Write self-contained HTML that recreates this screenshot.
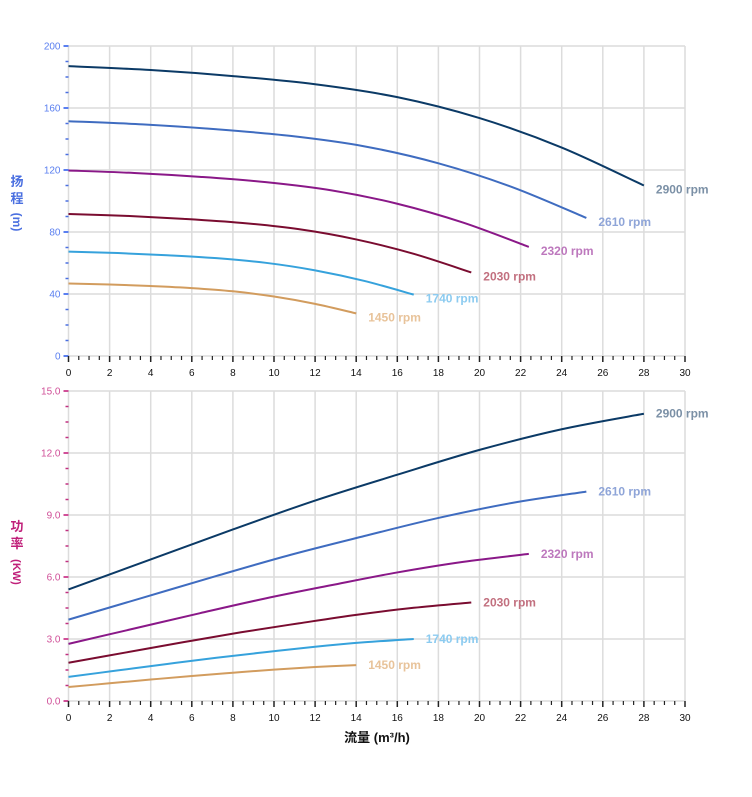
<!DOCTYPE html>
<html><head><meta charset="utf-8">
<style>
html,body{margin:0;padding:0;background:#fff;}
svg{display:block;font-family:"Liberation Sans","Noto Sans CJK SC",sans-serif;}
</style></head>
<body>
<svg id="c" width="752" height="797" xmlns="http://www.w3.org/2000/svg"></svg>
<script>
const S=document.getElementById('c');let h='';
const X0=68.5,XS=(685-68.5)/30;
const x=q=>X0+q*XS;
const T={top:46,bot:356,max:200},B={top:391,bot:701,max:15};
const yT=v=>T.bot-v*(T.bot-T.top)/T.max, yB=v=>B.bot-v*(B.bot-B.top)/B.max;
function panel(P,yf,majStep,minStep,fmt,colMaj,colMin){
  // grid
  for(let q=2;q<=30;q+=2)h+=`<line x1="${x(q)}" y1="${P.top}" x2="${x(q)}" y2="${P.bot}" stroke="#dcdcdc" stroke-width="1.5"/>`;
  for(let v=majStep;v<=P.max+1e-9;v+=majStep)h+=`<line x1="${X0}" y1="${yf(v)}" x2="685" y2="${yf(v)}" stroke="#dcdcdc" stroke-width="1.5"/>`;
  h+=`<line x1="${X0}" y1="${P.top}" x2="${X0}" y2="${P.bot}" stroke="#dcdcdc" stroke-width="1.5"/>`;
  h+=`<line x1="${X0}" y1="${P.bot}" x2="685" y2="${P.bot}" stroke="#dcdcdc" stroke-width="1.5"/>`;
  // y ticks
  for(let v=0;v<=P.max+1e-9;v+=minStep){
    const maj=Math.abs(v/majStep-Math.round(v/majStep))<1e-6;
    const y=yf(v);
    if(maj){h+=`<line x1="${X0-5}" y1="${y}" x2="${X0}" y2="${y}" stroke="${colMaj}" stroke-width="2"/>`;
      h+=`<text x="${X0-8}" y="${y+3.5}" font-size="10" fill="${colMaj}" text-anchor="end">${fmt(v)}</text>`;}
    else h+=`<line x1="${X0-3}" y1="${y}" x2="${X0}" y2="${y}" stroke="${colMin}" stroke-width="1.5"/>`;
  }
  // x ticks
  for(let q=0;q<=30;q+=0.5){const maj=q%2==0;
    h+=`<line x1="${x(q)}" y1="${P.bot}" x2="${x(q)}" y2="${P.bot+(maj?6:4)}" stroke="#222" stroke-width="${maj?1.5:1.2}"/>`;
    if(maj)h+=`<text x="${x(q)}" y="${P.bot+20}" font-size="10" fill="#111" text-anchor="middle">${q}</text>`;}
}
panel(T,yT,40,10,v=>v,'#5a7ff0','#4a6fe0');
panel(B,yB,3,0.75,v=>v.toFixed(1),'#d04f98','#c03080');
function path(pts){let d=`M${pts[0][0]},${pts[0][1]}`;
  for(let i=0;i<pts.length-1;i++){const p0=pts[i-1]||pts[i],p1=pts[i],p2=pts[i+1],p3=pts[i+2]||p2;
    d+=` C${p1[0]+(p2[0]-p0[0])/6},${p1[1]+(p2[1]-p0[1])/6} ${p2[0]-(p3[0]-p1[0])/6},${p2[1]-(p3[1]-p1[1])/6} ${p2[0]},${p2[1]}`;}
  return d;}
const H=[[0,187],[4,184.5],[8,180.6],[12,175.3],[16,167],[20,153.5],[24,134.5],[28,110]];
const Pw=[[0,5.4],[4,6.85],[8,8.3],[12,9.7],[16,10.95],[20,12.15],[24,13.15],[28,13.9]];
const R=[[2900,'#0b3a66','#7b90a6'],[2610,'#3f6cc0','#8fa5d8'],[2320,'#8a1888','#bd78bd'],[2030,'#7a0c30','#c2707f'],[1740,'#36a2dc','#8ccbf0'],[1450,'#d29c5e','#e8c39a']];
for(const [n,c,lc] of R){const k=n/2900;
  const ph=H.map(([q,v])=>[x(q*k),yT(v*k*k)]);
  const pp=Pw.map(([q,v])=>[x(q*k),yB(v*k*k*k)]);
  h+=`<path d="${path(ph)}" fill="none" stroke="${c}" stroke-width="2"/>`;
  h+=`<path d="${path(pp)}" fill="none" stroke="${c}" stroke-width="2"/>`;
  const eh=ph[ph.length-1],ep=pp[pp.length-1];
  h+=`<text x="${eh[0]+12}" y="${eh[1]+8}" font-size="12" font-weight="bold" fill="${lc}">${n} rpm</text>`;
  h+=`<text x="${ep[0]+12}" y="${ep[1]+4}" font-size="12" font-weight="bold" fill="${lc}">${n} rpm</text>`;
}
// axis titles
h+=`<text x="17" y="186" font-size="13" font-weight="bold" fill="#4a6fe0" text-anchor="middle">扬</text>`;
h+=`<text x="17" y="203" font-size="13" font-weight="bold" fill="#4a6fe0" text-anchor="middle">程</text>`;
h+=`<text transform="translate(13,222) rotate(90)" font-size="12" font-weight="bold" fill="#4a6fe0" text-anchor="middle">(m)</text>`;
h+=`<text x="17" y="531" font-size="13" font-weight="bold" fill="#c0207a" text-anchor="middle">功</text>`;
h+=`<text x="17" y="548" font-size="13" font-weight="bold" fill="#c0207a" text-anchor="middle">率</text>`;
h+=`<text transform="translate(13,572) rotate(90)" font-size="11" font-weight="bold" fill="#c0207a" text-anchor="middle">(KW)</text>`;
h+=`<text x="377" y="742" font-size="13" font-weight="bold" fill="#111" text-anchor="middle">流量 (m³/h)</text>`;
S.innerHTML=h;
</script>
</body></html>
